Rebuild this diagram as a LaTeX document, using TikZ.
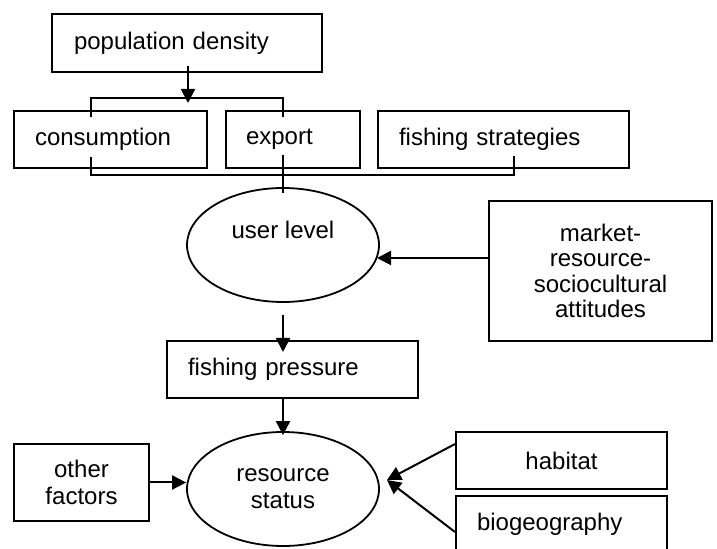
\documentclass[tikz,border=0pt]{standalone}
\usepackage{fontspec}
\setmainfont{Liberation Sans}
\usetikzlibrary{arrows.meta,shapes.geometric,calc}
\begin{document}
\begin{tikzpicture}[x=0.5pt,y=-0.5pt,
  txt/.style={font=\fontsize{12}{13.5}\selectfont},
  box/.style={txt,draw,line width=1pt,rectangle,inner ysep=0pt},
  lbox/.style={box,align=left},
  cbox/.style={box,align=center,inner xsep=0pt},
  oval/.style={txt,draw,line width=0.9pt,ellipse,minimum width=96pt,minimum height=57pt,inner sep=0pt,align=center},
  conn/.style={line width=1pt},
  arr/.style={conn,-{Triangle[length=7pt,width=7pt]}}]
\clip (0,0) rectangle (717,549);
% boxes
\node[lbox,inner xsep=11pt,text width=113pt,minimum height=29pt] (pd) at (187,43) {population density};
\node[lbox,inner xsep=10.5pt,text width=75.5pt,minimum height=28.5pt] (cons) at (110.5,139.5) {consumption};
\node[lbox,inner xsep=10pt,text width=47pt,minimum height=28.5pt] (exp) at (293,139.5) {export};
\node[lbox,inner xsep=10.5pt,text width=104.5pt,minimum height=28.5pt] (fs) at (503.5,139.5) {fishing strategies};
\node[oval] (user) at (283,245) {user level\\[2pt]\mbox{}};
\node[cbox,font=\fontsize{12}{12.75}\selectfont,minimum width=111.5pt,minimum height=70pt] (market) at (600.5,271) {market-\\resource-\\sociocultural\\attitudes};
\node[lbox,inner xsep=10.5pt,text width=104.5pt,minimum height=28.5pt] (fp) at (292.5,369.5) {fishing pressure};
\node[oval] (rs) at (283,489) {resource\\status};
\node[cbox,minimum width=67.5pt,minimum height=38.5pt] (of) at (81.5,482.5) {other\\factors};
\node[cbox,minimum width=105.5pt,minimum height=28.5pt] (hab) at (561.5,460.5) {habitat};
\node[lbox,inner xsep=10.5pt,text width=84.5pt,minimum height=28.5pt] (bio) at (561.5,524.5) {biogeography};
% coordinates for brackets and free ends
\coordinate (tbL) at (91,117);
\coordinate (tbR) at (283,117);
\coordinate (tbM) at (188,103);
\coordinate (bbL) at (91,157);
\coordinate (bbR) at (514,156);
\coordinate (expo) at (283,155);
\coordinate (uin) at (377,258);
\coordinate (rin) at (387,480);
% connectors
\draw[arr] ($(pd.south)+(1,-7)$) -- (tbM);
\draw[conn] (tbL) -- ++(0,-19) -| (tbR);
\draw[conn] (bbL) -- ++(0,18) -| (bbR);
\draw[conn] (expo) -- ($(user.north)+(0,6)$);
\draw[arr] (market.west |- uin) -- (uin);
\draw[arr] ($(user.south)+(0,12)$) -- ($(fp.north -| user)+(0,12)$);
\draw[arr] (fp.south -| rs) -- ($(rs.north)+(0,4)$);
\draw[arr] (of.east) -- (of.east -| rs.west);
\draw[arr] ($(hab.north west)+(0,13)$) -- (rin);
\draw[arr] ($(bio.north west)+(0,37)$) -- (rin);
\end{tikzpicture}
\end{document}
